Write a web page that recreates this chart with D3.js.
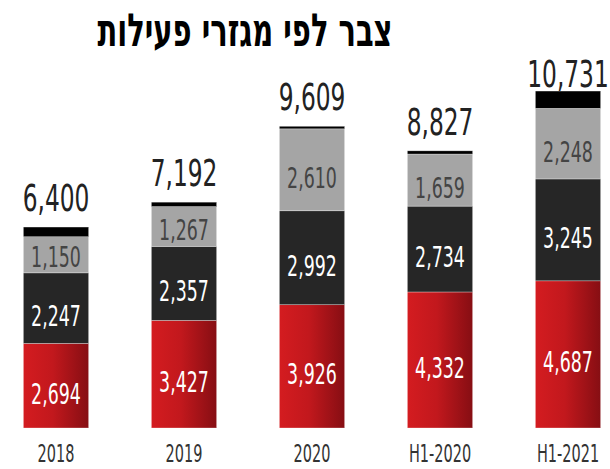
<!DOCTYPE html>
<html>
<head>
<meta charset="utf-8">
<script src="https://cdn.jsdelivr.net/npm/d3@7"></script>
<style>
  body { margin: 0; background: #fff; }
  text { font-family: "DejaVu Sans", sans-serif; }
</style>
</head>
<body>
<script>
var width = 610
var height = 469

var categories = ["2018", "2019", "2020", "H1-2020", "H1-2021"]
var series1 = [2694, 3427, 3926, 4332, 4687]   // red
var series2 = [2247, 2357, 2992, 2734, 3245]   // dark grey
var series3 = [1150, 1267, 2610, 1659, 2248]   // light grey
var totals = [6400, 7192, 9609, 8827, 10731]
var title = "צבר לפי מגזרי פעילות"

var keys = ["s1", "s2", "s3", "s4"]
var rows = categories.map(function (c, i) {
  return {
    cat: c,
    s1: series1[i],
    s2: series2[i],
    s3: series3[i],
    s4: totals[i] - series1[i] - series2[i] - series3[i]   // unlabelled black cap
  }
})

var svg = d3.select("body").append("svg")
  .attr("width", width)
  .attr("height", height)

var defs = svg.append("defs")
var grad = defs.append("linearGradient").attr("id", "redGrad")
  .attr("x1", "0%").attr("x2", "100%").attr("y1", "0%").attr("y2", "0%")
grad.append("stop").attr("offset", "0%").attr("stop-color", "#d41c20")
grad.append("stop").attr("offset", "45%").attr("stop-color", "#c2181d")
grad.append("stop").attr("offset", "100%").attr("stop-color", "#860e13")

var fills = { s1: "url(#redGrad)", s2: "#262626", s3: "#a5a5a5", s4: "#000" }
var labelColor = { s1: "#fff", s2: "#fff", s3: "#444" }
var fmt = d3.format(",")

var x = d3.scaleBand()
  .domain(categories)
  .range([-8, 632])
  .paddingInner(0.49)
  .paddingOuter(0.245)

var y = d3.scaleLinear()
  .domain([0, 11000])
  .range([428, 82.6])

var stacked = d3.stack().keys(keys)(rows)

// condensed look: squeeze text horizontally around its anchor
function squeeze(sel, cx, cy, sx) {
  sel.attr("x", 0).attr("y", 0)
    .attr("transform", function (d, i) {
      return "translate(" + cx(d, i) + "," + cy(d, i) + ") scale(" + sx + ",1)"
    })
}

svg.append("text")
  .attr("text-anchor", "middle")
  .attr("direction", "rtl")
  .attr("font-size", 46)
  .attr("font-weight", "bold")
  .attr("fill", "#000")
  .text(title)
  .call(squeeze, function () { return 245 }, function () { return 46 }, 0.63)

var layers = svg.append("g").selectAll("g")
  .data(stacked)
  .enter()
  .append("g")
  .attr("fill", function (d) { return fills[d.key] })

layers.selectAll("rect")
  .data(function (d) { return d })
  .enter()
  .append("rect")
  .attr("x", function (d) { return x(d.data.cat) })
  .attr("width", x.bandwidth())
  .attr("y", function (d) { return y(d[1]) })
  .attr("height", function (d) { return y(d[0]) - y(d[1]) })
  .attr("stroke", "#fff")
  .attr("stroke-opacity", 0.5)
  .attr("stroke-width", 0.6)

// segment labels
stacked.forEach(function (layer) {
  if (!labelColor[layer.key]) return
  svg.append("g").selectAll("text")
    .data(layer)
    .enter()
    .append("text")
    .attr("text-anchor", "middle")
    .attr("font-size", 29)
    .attr("fill", labelColor[layer.key])
    .text(function (d) { return fmt(d[1] - d[0]) })
    .call(squeeze,
      function (d) { return x(d.data.cat) + x.bandwidth() / 2 },
      function (d) {
        var mid = (y(d[0]) + y(d[1])) / 2
        return Math.min(mid + 18, y(d[0]) - 6)
      }, 0.6)
})

// totals
svg.append("g").selectAll("text")
  .data(rows)
  .enter()
  .append("text")
  .attr("text-anchor", "middle")
  .attr("font-size", 37)
  .attr("fill", "#222")
  .text(function (d, i) { return fmt(totals[i]) })
  .call(squeeze,
    function (d) { return x(d.cat) + x.bandwidth() / 2 },
    function (d, i) { return Math.max(y(totals[i]) - 16, 87) }, 0.63)

// category axis
var axis = svg.append("g")
  .attr("transform", "translate(0,428)")
  .call(d3.axisBottom(x).tickSize(0).tickPadding(0))
axis.select(".domain").remove()
axis.selectAll("text")
  .attr("y", 0)
  .attr("dy", null)
  .attr("transform", "translate(0,34) scale(0.58,1)")
  .attr("font-size", 25)
  .attr("font-family", "DejaVu Sans, sans-serif")
  .attr("fill", "#333")
</script>
</body>
</html>
